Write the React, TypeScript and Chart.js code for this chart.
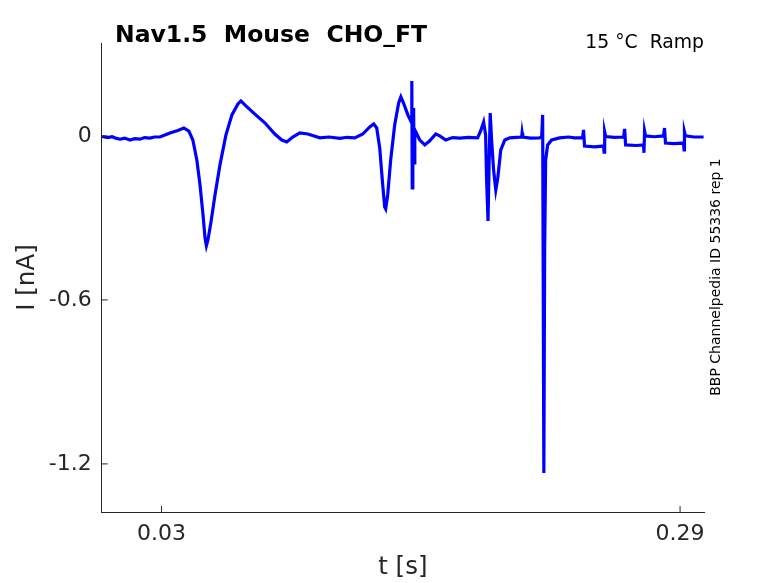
import { useEffect, useRef } from "react";
import { Chart, registerables } from "chart.js";

Chart.register(...registerables);

const timeS = [
  0.0002, 0.003, 0.0052, 0.0075, 0.0092, 0.0115, 0.0142, 0.0165, 0.0192, 0.0215,
  0.0242, 0.0265, 0.0292, 0.032, 0.0342, 0.0382, 0.0412, 0.0437, 0.0457, 0.0477,
  0.0493, 0.0508, 0.0518, 0.0525, 0.0533, 0.0548, 0.0568, 0.0593, 0.0623, 0.0653,
  0.0683, 0.0698, 0.0723, 0.0768, 0.0818, 0.0868, 0.0903, 0.0928, 0.0958, 0.0993,
  0.1034, 0.1094, 0.114, 0.1194, 0.123, 0.1269, 0.1309, 0.1344, 0.1364, 0.1379,
  0.1394, 0.1409, 0.1419, 0.1424, 0.1434, 0.1449, 0.1469, 0.1489, 0.15, 0.1515,
  0.1535, 0.1552, 0.1555, 0.1557, 0.156, 0.1564, 0.1566, 0.157, 0.1595, 0.162,
  0.1645, 0.1675, 0.1695, 0.1725, 0.176, 0.1795, 0.184, 0.1885, 0.19, 0.1915,
  0.1925, 0.193, 0.1937, 0.1942, 0.1948, 0.1955, 0.1965, 0.1976, 0.1986, 0.2001,
  0.2021, 0.2046, 0.208, 0.2106, 0.2108, 0.2111, 0.215, 0.2196, 0.2206, 0.2211,
  0.2217, 0.2221, 0.2226, 0.2236, 0.2256, 0.2296, 0.234, 0.2371, 0.2411, 0.2416,
  0.2421, 0.2471, 0.2516, 0.2519, 0.2522, 0.2527, 0.257, 0.2617, 0.2622, 0.2627,
  0.268, 0.2717, 0.2719, 0.2722, 0.2727, 0.277, 0.2817, 0.2822, 0.2827, 0.287,
  0.2917, 0.292, 0.2922, 0.2927, 0.297, 0.3018,
];
const currentNA = [
  -0.002, -0.006, -0.003, -0.009, -0.012, -0.008, -0.015, -0.01, -0.012, -0.006,
  -0.008, -0.004, -0.004, 0.004, 0.011, 0.02, 0.029, 0.018, -0.015, -0.088,
  -0.179, -0.289, -0.373, -0.402, -0.38, -0.315, -0.216, -0.106, 0.004, 0.077,
  0.117, 0.128, 0.11, 0.08, 0.048, 0.007, -0.015, -0.022, -0.004, 0.011,
  0.007, -0.007, -0.004, -0.009, -0.005, -0.007, 0.007, 0.033, 0.044, 0.029,
  -0.044, -0.179, -0.26, -0.267, -0.216, -0.088, 0.04, 0.121, 0.143, 0.117,
  0.077, 0.051, 0.201, -0.19, 0.04, 0.102, -0.099, 0.022, -0.015, -0.033,
  -0.018, 0.007, 0.0, -0.015, -0.006, -0.008, -0.005, -0.007, 0.018, 0.051,
  0.004, -0.161, -0.311, -0.124, 0.084, -0.015, -0.124, -0.198, -0.154, -0.051,
  -0.015, -0.007, -0.005, -0.004, 0.011, -0.004, -0.008, -0.007, -0.004, 0.077,
  -1.233, -0.417, -0.088, -0.033, -0.015, -0.007, -0.004, -0.007, -0.007, 0.022,
  -0.037, -0.04, -0.037, -0.059, 0.015, -0.002, -0.005, -0.004, 0.026, -0.033,
  -0.035, -0.033, -0.062, 0.018, 0.0, -0.003, 0.0, 0.029, -0.026, -0.028,
  -0.026, -0.051, 0.015, 0.0, -0.004, -0.004,
];

const xTicks = [0.03, 0.29];
const xTickLabels = ["0.03", "0.29"];
const yTicks = [-1.2, -0.6, 0];
const yTickLabels = ["-1.2", "-0.6", "0"];

const titleText = "Nav1.5  Mouse  CHO_FT";
const conditionText = "15 °C  Ramp";
const sideText = "BBP Channelpedia ID 55336 rep 1";

const FONT = "'DejaVu Sans', sans-serif";
const AXIS_COLOR = "#262626";

// MATLAB-style inward ticks plus the header/side labels
const decorPlugin = {
  id: "decor",
  afterDraw(chart: Chart) {
    const { ctx, chartArea, scales } = chart;
    const x = scales.x;
    const y = scales.y;
    ctx.save();
    ctx.strokeStyle = AXIS_COLOR;
    ctx.lineWidth = 1;
    ctx.beginPath();
    xTicks.forEach((v) => {
      const px = x.getPixelForValue(v);
      ctx.moveTo(px, chartArea.bottom);
      ctx.lineTo(px, chartArea.bottom - 6);
    });
    yTicks.forEach((v) => {
      const py = y.getPixelForValue(v);
      ctx.moveTo(chartArea.left, py);
      ctx.lineTo(chartArea.left + 6, py);
    });
    ctx.stroke();

    ctx.fillStyle = "#000";
    ctx.font = `bold 23.5px ${FONT}`;
    ctx.textAlign = "left";
    ctx.textBaseline = "alphabetic";
    ctx.fillText(titleText, 115, 42);

    ctx.font = `18.8px ${FONT}`;
    ctx.textAlign = "right";
    ctx.fillText(conditionText, chartArea.right, 48);

    ctx.font = `14px ${FONT}`;
    ctx.translate(716, 277);
    ctx.rotate(-Math.PI / 2);
    ctx.textAlign = "center";
    ctx.textBaseline = "middle";
    ctx.fillText(sideText, 0, 0);
    ctx.restore();
  },
};

export default function App() {
  const chartRef = useRef<HTMLCanvasElement>(null);
  const chartInstance = useRef<Chart | null>(null);

  useEffect(() => {
    if (!chartRef.current) return;
    if (chartInstance.current) chartInstance.current.destroy();

    const points = timeS.map((t, i) => ({ x: t, y: currentNA[i] }));

    chartInstance.current = new Chart(chartRef.current, {
      type: "line",
      data: {
        datasets: [
          {
            data: points,
            borderColor: "#0000ff",
            borderWidth: 3.2,
            pointRadius: 0,
            tension: 0,
            fill: false,
          },
        ],
      },
      options: {
        responsive: true,
        maintainAspectRatio: false,
        animation: false,
        plugins: {
          legend: { display: false },
          tooltip: { enabled: false },
        },
        layout: {
          padding: { top: 43, right: 74, left: 0, bottom: 0 },
        },
        scales: {
          x: {
            type: "linear",
            min: 0,
            max: 0.302,
            afterBuildTicks: (scale) => {
              scale.ticks = xTicks.map((v) => ({ value: v }));
            },
            afterFit: (scale) => {
              scale.height = 71;
            },
            grid: { display: false, drawTicks: false },
            border: { display: true, color: AXIS_COLOR, width: 1 },
            ticks: {
              color: AXIS_COLOR,
              padding: 9,
              maxRotation: 0,
              font: { family: FONT, size: 22 },
              callback: (value) => xTickLabels[xTicks.indexOf(Number(value))] ?? "",
            },
            title: {
              display: true,
              text: "t [s]",
              color: AXIS_COLOR,
              font: { family: FONT, size: 24.5 },
              padding: { top: 0, bottom: 1 },
            },
          },
          y: {
            type: "linear",
            min: -1.376,
            max: 0.34,
            afterBuildTicks: (scale) => {
              scale.ticks = yTicks.map((v) => ({ value: v }));
            },
            afterFit: (scale) => {
              scale.width = 101.7;
            },
            grid: { display: false, drawTicks: false },
            border: { display: true, color: AXIS_COLOR, width: 1 },
            ticks: {
              color: AXIS_COLOR,
              padding: 10,
              font: { family: FONT, size: 22 },
              callback: (value) => yTickLabels[yTicks.indexOf(Number(value))] ?? "",
            },
            title: {
              display: true,
              text: "I [nA]",
              color: AXIS_COLOR,
              font: { family: FONT, size: 24.5 },
              padding: { top: 13, bottom: 0 },
            },
          },
        },
      },
      plugins: [decorPlugin],
    });

    return () => {
      if (chartInstance.current) {
        chartInstance.current.destroy();
        chartInstance.current = null;
      }
    };
  }, []);

  return (
    <div
      style={{
        position: "fixed",
        left: 0,
        top: 0,
        width: 778,
        height: 583,
        background: "#fff",
      }}
    >
      <canvas ref={chartRef} />
    </div>
  );
}
